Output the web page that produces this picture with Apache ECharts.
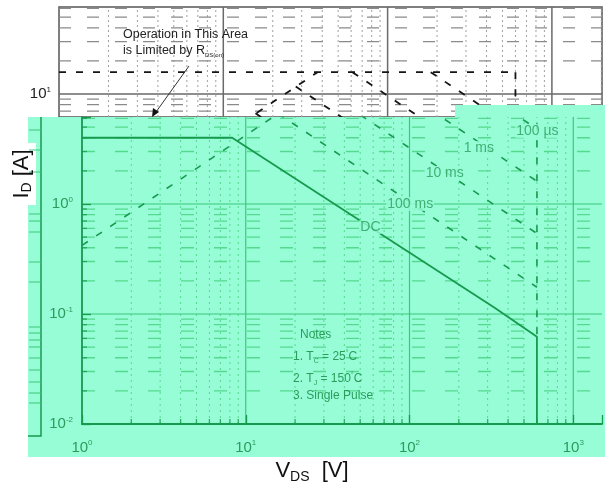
<!DOCTYPE html>
<html><head><meta charset="utf-8">
<script src="https://cdn.jsdelivr.net/npm/echarts@6/dist/echarts.min.js"></script>
<style>html,body{margin:0;padding:0;background:#fff}#c{width:605px;height:491px}</style>
</head><body><div id="c"></div>
<script>
// ---------------- data (V_DS in V, I_D in A) ----------------
const rdsLimitV = [1, 37.5];
const rdsLimitI = [0.42, 15.8];
const idmLimitV = [1, 600];
const idmLimitI = [15.8, 15.8];
const bvdssV = [600, 600];
const bvdssI = [15.8, 0.062];
const us100V = [183, 600];
const us100I = [15.8, 4.81];
const ms1V = [61, 600];
const ms1I = [15.8, 1.61];
const ms10V = [27.6, 600];
const ms10I = [11.7, 0.54];
const ms100V = [15.7, 600];
const ms100I = [6.67, 0.175];
const dcV = [1, 8.26, 331, 600, 600];
const dcI = [4.0, 4.0, 0.114, 0.062, 0.01];
const curveLabels = ['100 µs', '1 ms', '10 ms', '100 ms', 'DC'];
const curveLabelV = [604, 265, 164, 101, 57.7];
const curveLabelI = [4.61, 3.23, 1.91, 1.0, 0.618];
const xDecades = [1, 10, 100, 1000];
const yDecades = [0.01, 0.1, 1, 10];
const notesLines = ['Notes', '1. T{sub|C} = 25{sup|°}C', '2. T{sub|J} = 150{sup|°}C', '3. Single Pulse'];
const calloutLines = ['Operation in This Area', 'is Limited by R{sub|DS(on)}'];

// ---------------- helpers ----------------
const pairs = (xs, ys) => xs.map((x, i) => [x, ys[i]]);
const minors = (decs, lo, hi) => {
  const out = [];
  decs.forEach(d => { for (let k = 2; k <= 9; k++) { const v = d * k; if (v > lo && v < hi) out.push(+v.toPrecision(6)); } });
  return out;
};
const MINT = '#97fdd7';
const G_DARK = '#169a4e';
const G_TEXT = '#2b9c5c';
const G_GRID = '#3cc878';
const G_MINOR = '#55d98f';
const FONT = '"Liberation Sans", Arial, sans-serif';

const mainR = { xMin: 1, xMax: 1498, yMin: 0.01, yMax: 6.178 };
const topR = { xMin: 1, xMax: 2018, yMin: 6.18, yMax: 61.8 };

const supFmt = () => (v) => {
  const l = Math.log10(v), e = Math.round(l);
  if (Math.abs(l - e) > 1e-6) return '';
  return '{b|10}{s|' + (e < 0 ? '-' + (-e) : e) + '}';
};
const supRich = (color, fs) => ({
  b: { fontSize: fs, color: color, fontFamily: FONT },
  s: { fontSize: 8, color: color, fontFamily: FONT, padding: [0, 0, 9, 0] }
});

const curves = [
  { v: rdsLimitV, i: rdsLimitI, dash: true },
  { v: idmLimitV, i: idmLimitI, dash: true },
  { v: bvdssV, i: bvdssI, dash: true },
  { v: us100V, i: us100I, dash: true },
  { v: ms1V, i: ms1I, dash: true },
  { v: ms10V, i: ms10I, dash: true },
  { v: ms100V, i: ms100I, dash: true },
  { v: dcV, i: dcI, dash: false }
];

const series = [];
// grid lines drawn as broken line series (one per style group), clipped to their grid
function gridLines(ax, r, xs, ys, style, z) {
  const data = [];
  xs.forEach(v => { data.push([v, r.yMin], [v, r.yMax], [v, '-']); });
  ys.forEach(v => { data.push([r.xMin, v], [r.xMax, v], ['-', v]); });
  series.push({
    type: 'line', xAxisIndex: ax, yAxisIndex: ax, data: data, z: z, silent: true, clip: true,
    symbol: 'none', connectNulls: false, lineStyle: style
  });
}
// top strip (scanned copy) grid 0
gridLines(0, topR, minors(xDecades, topR.xMin, topR.xMax), [], { color: '#a0a0a0', type: [2, 3], width: 1 }, 1);
gridLines(0, topR, [], minors([1, 10], topR.yMin, topR.yMax), { color: '#8a8a8a', type: [12, 16], width: 1.2 }, 1);
gridLines(0, topR, [10, 100, 1000], [10], { color: '#6a6a6a', type: 'solid', width: 1.5 }, 1);
curves.forEach(c => series.push({
  type: 'line', xAxisIndex: 0, yAxisIndex: 0, data: pairs(c.v, c.i), symbol: 'none', z: 2,
  clip: true, silent: true,
  lineStyle: { color: '#151515', width: 1.8, type: c.dash ? [7, 10] : 'solid' }
}));

// main green grid 1
gridLines(1, mainR, minors(xDecades, mainR.xMin, mainR.xMax), [], { color: G_MINOR, type: [2, 4], width: 1 }, 8);
gridLines(1, mainR, [], minors(yDecades, mainR.yMin, mainR.yMax), { color: G_MINOR, type: [13, 20], width: 1.3 }, 8);
gridLines(1, mainR, [10, 100, 1000], [0.1, 1], { color: G_GRID, type: 'solid', width: 1.2 }, 8);
// minor ticks on main axes
series.push({
  type: 'scatter', xAxisIndex: 1, yAxisIndex: 1, z: 11, silent: true,
  data: minors(xDecades, mainR.xMin, mainR.xMax).map(v => [v, mainR.yMin]),
  symbol: 'rect', symbolSize: [1.3, 5], symbolOffset: [0, -2.5],
  itemStyle: { color: G_DARK }
});
series.push({
  type: 'scatter', xAxisIndex: 1, yAxisIndex: 1, z: 11, silent: true,
  data: minors(yDecades, mainR.yMin, mainR.yMax).map(v => [mainR.xMin, v]),
  symbol: 'rect', symbolSize: [5, 1.3], symbolOffset: [2.5, 0],
  itemStyle: { color: G_DARK }
});
curves.forEach(c => series.push({
  type: 'line', xAxisIndex: 1, yAxisIndex: 1, data: pairs(c.v, c.i), symbol: 'none', z: 12,
  clip: true, silent: true,
  lineStyle: { color: G_DARK, width: c.dash ? 1.6 : 1.8, type: c.dash ? [7, 10] : 'solid' }
}));
series.push({
  type: 'scatter', xAxisIndex: 1, yAxisIndex: 1, z: 13, silent: true,
  data: curveLabels.map((n, k) => ({ value: [curveLabelV[k], curveLabelI[k]], name: n })),
  symbolSize: 0,
  label: {
    show: true, position: 'inside', formatter: p => p.name, color: G_TEXT,
    fontSize: 14, fontFamily: FONT, backgroundColor: MINT, padding: [0, 1]
  }
});

const graphic = [
  // green overlay sheet
  { type: 'polygon', z: 5, silent: true,
    shape: { points: [[28, 117], [455, 117], [455, 105], [605, 105], [605, 457], [28, 457]] },
    style: { fill: MINT } },
  // stray frame piece on the left
  { type: 'polyline', z: 6, silent: true, shape: { points: [[41, 117], [41, 436], [28, 436]] },
    style: { stroke: G_DARK, lineWidth: 1.5, fill: null } },
  // white box behind the y title
  { type: 'rect', z: 6, silent: true, shape: { x: 7, y: 143, width: 29, height: 62 }, style: { fill: '#fff' } },
  { type: 'text', z: 20, silent: true, x: 22, y: 174, rotation: Math.PI / 2,
    style: { text: 'I{d|D} [A]', align: 'center', verticalAlign: 'middle', fill: '#111',
      font: '22px ' + FONT, rich: { d: { fontSize: 14, fill: '#111', padding: [10, 0, 0, 0] } } } },
  { type: 'text', z: 20, silent: true, x: 312, y: 471,
    style: { text: 'V{d|DS}  [V]', align: 'center', verticalAlign: 'middle', fill: '#111',
      font: '22px ' + FONT, rich: { d: { fontSize: 14, fill: '#111', padding: [12, 0, 0, 0] } } } },
  // callout in the top strip
  { type: 'text', z: 3, silent: true, x: 123, y: 35,
    style: { text: calloutLines[0], verticalAlign: 'middle', fill: '#222', font: '12.5px ' + FONT } },
  { type: 'text', z: 3, silent: true, x: 123, y: 51,
    style: { text: calloutLines[1], verticalAlign: 'middle', fill: '#222', font: '12.5px ' + FONT,
      rich: { sub: { fontSize: 6, fill: '#222', padding: [9, 0, 0, 0] } } } },
  { type: 'line', z: 3, silent: true, shape: { x1: 189, y1: 66, x2: 156, y2: 112 },
    style: { stroke: '#333', lineWidth: 1 } },
  { type: 'polygon', z: 3, silent: true, shape: { points: [[152, 117], [153, 108], [159, 112]] },
    style: { fill: '#111' } }
];
// ticks of the stray frame piece
[130, 150, 172, 214, 221, 232, 262, 282, 327, 333, 340, 347, 358, 370, 382, 393, 403].forEach(y =>
  graphic.push({ type: 'line', z: 6, silent: true, shape: { x1: 29, y1: y, x2: 41, y2: y },
    style: { stroke: G_GRID, lineWidth: 1 } }));
// notes
const notesY = [335, 357, 379, 396];
notesLines.forEach((t, k) => graphic.push({
  type: 'text', z: 20, silent: true, x: k === 0 ? 300 : 293, y: notesY[k],
  style: { text: t, verticalAlign: 'middle', fill: G_TEXT, font: '12px ' + FONT,
    rich: { sub: { fontSize: 7, fill: G_TEXT, padding: [8, 0, 0, 0] }, sup: { fontSize: 7, fill: G_TEXT, padding: [0, 0, 8, 0] } } }
}));

const option = {
  animation: false,
  backgroundColor: '#fff',
  grid: [
    { left: 59, right: 3, top: 7, bottom: 374, show: true, borderColor: '#555', borderWidth: 1.5, z: 0 },
    { left: 82, right: 0, top: 117, bottom: 67, show: false, z: 9 }
  ],
  xAxis: [
    { type: 'log', gridIndex: 0, min: topR.xMin, max: topR.xMax, axisLine: { show: false }, axisTick: { show: false },
      axisLabel: { show: false }, splitLine: { show: false }, z: 0 },
    { type: 'log', gridIndex: 1, min: mainR.xMin, max: mainR.xMax, z: 10,
      axisLine: { show: true, lineStyle: { color: G_DARK, width: 1.8 } },
      axisTick: { show: true, inside: true, length: 9, lineStyle: { color: G_DARK, width: 1.3 } },
      axisLabel: { show: true, margin: 15, formatter: supFmt(), rich: supRich(G_TEXT, 15) },
      splitLine: { show: false } }
  ],
  yAxis: [
    { type: 'log', gridIndex: 0, min: topR.yMin, max: topR.yMax, axisLine: { show: false }, axisTick: { show: false },
      axisLabel: { show: true, margin: 8, formatter: supFmt(), rich: supRich('#222', 15) },
      splitLine: { show: false }, z: 0 },
    { type: 'log', gridIndex: 1, min: mainR.yMin, max: mainR.yMax, z: 10,
      axisLine: { show: true, lineStyle: { color: G_DARK, width: 1.8 } },
      axisTick: { show: true, inside: true, length: 9, lineStyle: { color: G_DARK, width: 1.3 } },
      axisLabel: { show: true, margin: 9, formatter: supFmt(), rich: supRich(G_TEXT, 15) },
      splitLine: { show: false } }
  ],
  graphic: { elements: graphic },
  series: series
};
const chart = echarts.init(document.getElementById('c'), null, { renderer: 'canvas' });
chart.setOption(option);
</script>
</body></html>
